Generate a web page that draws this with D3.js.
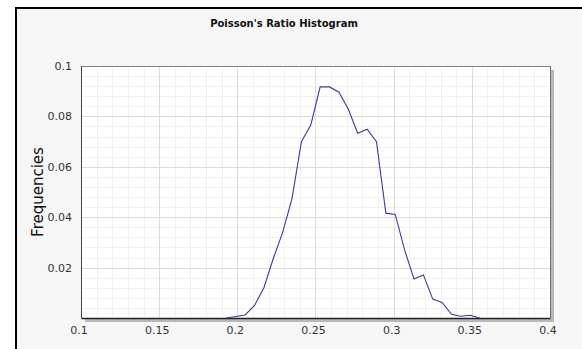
<!DOCTYPE html>
<html lang="en">
<head>
  <meta charset="UTF-8">
  <title>Poisson's Ratio Histogram</title>
  <script src="https://cdn.jsdelivr.net/npm/d3@7"></script>
  <style>
    body { margin: 0; background: #fff; }
    text { font-family: "DejaVu Sans", Verdana, sans-serif; fill: #333; }
    .grid-minor line { stroke: #f0f0f0; stroke-width: 1px; }
    .grid-major line { stroke: #dcdcdc; stroke-width: 1px; }
  </style>
</head>
<body>
<svg width="582" height="349"></svg>
<script>
  // chart data
  var xTicks = [0.1, 0.15, 0.2, 0.25, 0.3, 0.35, 0.4];
  var yTicks = [0.02, 0.04, 0.06, 0.08, 0.1];
  var binCenters = [0.193, 0.199, 0.205, 0.211, 0.217, 0.223, 0.229, 0.235, 0.241, 0.247,
                    0.253, 0.259, 0.265, 0.271, 0.277, 0.283, 0.289, 0.295, 0.301, 0.307,
                    0.313, 0.319, 0.325, 0.331, 0.337, 0.343, 0.349, 0.355];
  var frequencies = [0, 0.0006, 0.0012, 0.005, 0.012, 0.0236, 0.034, 0.0475, 0.070, 0.0766,
                     0.0917, 0.0917, 0.0896, 0.0828, 0.0733, 0.0749, 0.070, 0.0416, 0.0411, 0.027,
                     0.0155, 0.0171, 0.0075, 0.0062, 0.0015, 0.0007, 0.0011, 0];

  var svg = d3.select("svg");
  // note: "top" is a reserved window property, so use plot* names
  var plotLeft = 81, plotRight = 550, plotTop = 66, plotBottom = 318;

  var x = d3.scaleLinear().domain([0.1, 0.4]).range([plotLeft, plotRight]);
  var y = d3.scaleLinear().domain([0, 0.1]).range([plotBottom, plotTop]);

  // outer panel
  svg.append("rect")
      .attr("x", 16).attr("y", 8)
      .attr("width", 600).attr("height", 400)
      .attr("fill", "#f6f6f6")
      .attr("stroke", "#000")
      .attr("stroke-width", 2);

  svg.append("text")
      .attr("x", 284).attr("y", 27)
      .attr("text-anchor", "middle")
      .style("font-size", "10px")
      .style("font-weight", "bold")
      .style("fill", "#111")
      .text("Poisson's Ratio Histogram");

  // shadow + plot background
  svg.append("rect")
      .attr("x", plotLeft + 4).attr("y", plotTop + 4)
      .attr("width", plotRight - plotLeft).attr("height", plotBottom - plotTop)
      .attr("fill", "#b8b8b8");
  svg.append("rect")
      .attr("x", plotLeft).attr("y", plotTop)
      .attr("width", plotRight - plotLeft).attr("height", plotBottom - plotTop)
      .attr("fill", "#fff");

  // grid
  var xMinor = d3.range(10, 41).map(function(d) { return d / 100; });
  var yMinor = d3.range(0, 26).map(function(d) { return d * 0.004; });

  var gMinor = svg.append("g").attr("class", "grid-minor");
  gMinor.selectAll(".vx").data(xMinor).enter().append("line")
      .attr("x1", function(d) { return Math.round(x(d)) + 0.5; })
      .attr("x2", function(d) { return Math.round(x(d)) + 0.5; })
      .attr("y1", plotTop).attr("y2", plotBottom);
  gMinor.selectAll(".hy").data(yMinor).enter().append("line")
      .attr("y1", function(d) { return Math.round(y(d)) + 0.5; })
      .attr("y2", function(d) { return Math.round(y(d)) + 0.5; })
      .attr("x1", plotLeft).attr("x2", plotRight);

  var gMajor = svg.append("g").attr("class", "grid-major");
  gMajor.selectAll(".vx").data(xTicks).enter().append("line")
      .attr("x1", function(d) { return Math.round(x(d)) + 0.5; })
      .attr("x2", function(d) { return Math.round(x(d)) + 0.5; })
      .attr("y1", plotTop).attr("y2", plotBottom);
  gMajor.selectAll(".hy").data(yTicks).enter().append("line")
      .attr("y1", function(d) { return Math.round(y(d)) + 0.5; })
      .attr("y2", function(d) { return Math.round(y(d)) + 0.5; })
      .attr("x1", plotLeft).attr("x2", plotRight);

  // plot frame
  svg.append("line").attr("x1", plotLeft).attr("x2", plotRight + 0.5)
      .attr("y1", plotTop + 0.5).attr("y2", plotTop + 0.5).attr("stroke", "#808080");
  svg.append("line").attr("x1", plotRight + 0.5).attr("x2", plotRight + 0.5)
      .attr("y1", plotTop).attr("y2", plotBottom).attr("stroke", "#707070");

  // axes
  var xAxis = d3.axisBottom(x).tickValues(xTicks).tickSize(0).tickPadding(8)
      .tickFormat(d3.format("~g"));
  var gx = svg.append("g").attr("transform", "translate(0," + plotBottom + ")").call(xAxis);
  gx.select(".domain").attr("stroke", "#222").attr("stroke-width", 1.5);
  gx.selectAll("text").attr("dx", "-2.5").style("font-size", "11px")
      .style("font-family", "DejaVu Sans, Verdana, sans-serif").attr("fill", "#333");

  var yAxis = d3.axisLeft(y).tickValues(yTicks).tickSize(0).tickPadding(9)
      .tickFormat(d3.format("~g"));
  var gy = svg.append("g").attr("transform", "translate(" + plotLeft + ",0)").call(yAxis);
  gy.select(".domain").attr("stroke", "#444").attr("stroke-width", 1);
  gy.selectAll("text").style("font-size", "11px")
      .style("font-family", "DejaVu Sans, Verdana, sans-serif").attr("fill", "#333");

  svg.append("text")
      .attr("transform", "translate(43," + ((plotTop + plotBottom) / 2) + ") rotate(-90)")
      .attr("text-anchor", "middle")
      .style("font-size", "15px")
      .style("fill", "#111")
      .text("Frequencies");

  // frequency polygon
  var line = d3.line()
      .x(function(d, i) { return x(binCenters[i]); })
      .y(function(d) { return y(d); });

  svg.append("path")
      .datum(frequencies)
      .attr("fill", "none")
      .attr("stroke", "#3a3a9e")
      .attr("stroke-width", 1.1)
      .attr("d", line);
</script>
</body>
</html>
